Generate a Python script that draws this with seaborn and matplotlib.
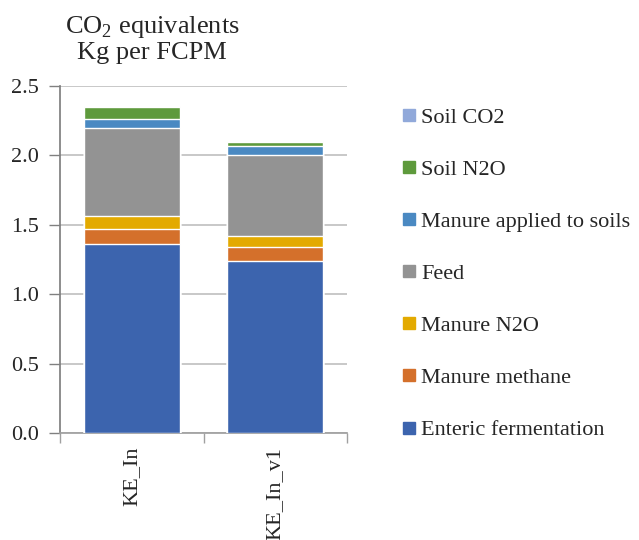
import matplotlib
matplotlib.use("Agg")
import matplotlib.pyplot as plt
from matplotlib.lines import Line2D
import numpy as np
import pandas as pd
import seaborn as sns

scenarios = ["KE_In", "KE_In_v1"]
# stacking order, bottom to top
sources = ["Enteric fermentation", "Manure methane", "Manure N2O", "Feed",
           "Manure applied to soils", "Soil N2O", "Soil CO2"]
enteric = [1.36, 1.24]
manure_methane = [0.11, 0.10]
manure_n2o = [0.09, 0.08]
feed = [0.64, 0.58]
manure_soils = [0.065, 0.07]
soil_n2o = [0.085, 0.03]
soil_co2 = [0.004, 0.004]
colors = ["#3C64AE", "#D4702B", "#E3AA00", "#939393", "#4A89C2", "#5E9A3C", "#91A9DA"]

sns.set_theme(style="white")
plt.rcParams["font.family"] = ["Liberation Serif", "DejaVu Serif"]
plt.rcParams["mathtext.fontset"] = "custom"
plt.rcParams["mathtext.rm"] = "Liberation Serif"

layers = [enteric, manure_methane, manure_n2o, feed, manure_soils, soil_n2o, soil_co2]
cum = np.cumsum(np.array(layers), axis=0)

fig = plt.figure(figsize=(6.39, 5.4), dpi=100)
ax = fig.add_axes([60 / 639, 107 / 540, 287 / 639, 347 / 540])

# draw tallest cumulative layer first so lower segments sit on top of it
for i in range(len(sources) - 1, -1, -1):
    df = pd.DataFrame({"scenario": scenarios, "value": cum[i]})
    sns.barplot(data=df, x="scenario", y="value", color=colors[i], width=0.667,
                saturation=1, ax=ax, zorder=3)

ax.set_xlim(-0.5, 1.5)
ax.set_ylim(0, 2.5)
ax.set_yticks(np.arange(0, 2.51, 0.5))
ax.set_yticklabels([f"{v:.1f}" for v in np.arange(0, 2.51, 0.5)], fontsize=16)
ax.yaxis.grid(True, color="#BFBFBF", linewidth=1.2, zorder=0)
ax.set_axisbelow(True)
ax.set_xlabel("")
ax.set_ylabel("")
ax.tick_params(axis="y", left=True, length=8, width=1, color="#808080", pad=7)
ax.tick_params(axis="x", which="major", length=0, pad=10)
ax.set_xticks([-0.5, 0.5, 1.5], minor=True)
ax.tick_params(axis="x", which="minor", bottom=True, length=7, width=1, color="#A0A0A0")
for lab in ax.get_xticklabels():
    lab.set_rotation(90)
    lab.set_fontsize(16)
    lab.set_va("top")
for s in ["top", "right"]:
    ax.spines[s].set_visible(False)
ax.spines["left"].set_color("#808080")
ax.spines["bottom"].set_color("#A0A0A0")

fig.text(152 / 639, 1 - 39 / 540, "CO$_2$ equivalents\nKg per FCPM", ha="center",
         va="center", fontsize=19, linespacing=1.1)

handles = [Line2D([0], [0], marker="s", linestyle="", markersize=8,
                  markerfacecolor=colors[i], markeredgecolor=colors[i])
           for i in range(len(sources) - 1, -1, -1)]
labels = sources[::-1]
fig.legend(handles, labels, loc="upper left", bbox_to_anchor=(388 / 639, 1 - 96 / 540),
           frameon=False, fontsize=16, labelspacing=1.42, handletextpad=0.1,
           handlelength=0.9, borderpad=0)

fig.savefig("out.png", dpi=100)
